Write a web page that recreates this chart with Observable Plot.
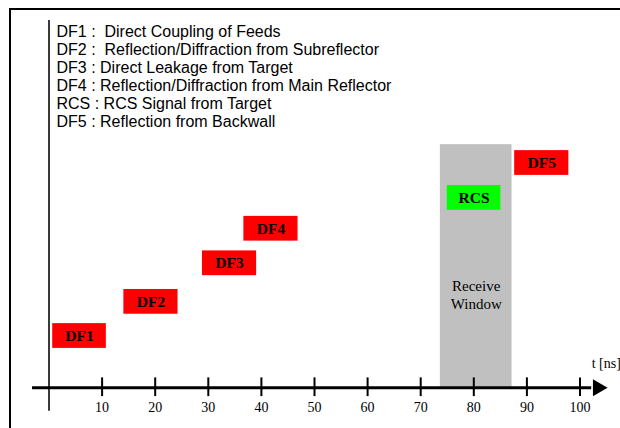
<!DOCTYPE html>
<html>
<head>
<meta charset="utf-8">
<script src="https://cdn.jsdelivr.net/npm/d3@7"></script>
<script src="https://cdn.jsdelivr.net/npm/@observablehq/plot@0.6"></script>
<style>
  html, body { margin: 0; padding: 0; background: #fff; }
  #wrap { position: relative; width: 620px; height: 428px; overflow: hidden; }
  #wrap::before { content: ""; position: absolute; left: 9px; top: 8px; width: 700px; height: 500px;
    border-left: 2px solid #000; border-top: 2px solid #000; }
  #wrap svg { position: absolute; left: 0; top: 0; }
</style>
</head>
<body>
<div id="wrap"></div>
<script>
// ---- data ----
const legendLines = [
  "DF1 :\u00a0 Direct Coupling of Feeds",
  "DF2 :\u00a0 Reflection/Diffraction from Subreflector",
  "DF3 : Direct Leakage from Target",
  "DF4 : Reflection/Diffraction from Main Reflector",
  "RCS : RCS Signal from Target",
  "DF5 : Reflection from Backwall"
];
const labels = ["DF1", "DF2", "DF3", "DF4", "RCS", "DF5"];
const kinds  = ["DF", "DF", "DF", "DF", "RCS", "DF"];
const starts = [0.7, 14.1, 28.9, 36.7, 75.0, 87.7];   // ns
const ends   = [10.8, 24.3, 39.1, 46.9, 85.1, 97.9];  // ns
const levels = [14.1, 23.4, 33.9, 43.3, 51.7, 61.2];  // relative height
const windowStart = 73.7, windowEnd = 87.2, windowTop = 66.2;
const windowLabel = "Receive\nWindow";
const tickValues = [10, 20, 30, 40, 50, 60, 70, 80, 90, 100];
const axisLabel = "t [ns]";
const axisStart = -3.1, axisEnd = 105.2;

// ---- build ----
const boxes = labels.map((label, i) => ({label, kind: kinds[i], start: starts[i], end: ends[i], level: levels[i]}));
const boxHalf = 3.37;
const serif = "'Liberation Serif', 'Times New Roman', serif";
const sans = "'Liberation Sans', Arial, sans-serif";

const chart = Plot.plot({
  width: 620,
  height: 428,
  marginLeft: 48.5,
  marginRight: 40.5,
  marginTop: 20,
  marginBottom: 40.7,
  x: {domain: [0, 100], axis: null},
  y: {domain: [0, 100], axis: null},
  color: {domain: ["DF", "RCS"], range: ["#ff0000", "#00ff00"]},
  marks: [
    // receive window
    Plot.rectY([{a: windowStart, b: windowEnd, t: windowTop}], {x1: "a", x2: "b", y1: 0, y2: "t", fill: "#c0c0c0"}),
    Plot.text([windowLabel], {x: (windowStart + windowEnd) / 2, y: 25.4, text: d => d, fontFamily: serif, fontSize: 15, fill: "#000", lineHeight: 1.2}),
    // vertical line
    Plot.ruleX([0], {y1: -6.4, y2: 100, stroke: "#3a3a3a", strokeWidth: 2}),
    // boxes
    Plot.rect(boxes, {x1: "start", x2: "end", y1: d => d.level - boxHalf, y2: d => d.level + boxHalf, fill: "kind"}),
    Plot.text(boxes, {x: d => (d.start + d.end) / 2, y: "level", text: "label", fontFamily: serif, fontWeight: "bold", fontSize: 15.5, fill: "#000"}),
    // time axis
    Plot.ruleY([0], {x1: axisStart, x2: axisEnd - 3, stroke: "#000", strokeWidth: 3}),
    Plot.dot([axisEnd], {x: d => d, y: 0, symbol: "triangle", rotate: 90, r: 6.3, fill: "#000", stroke: "none", dx: -9.8}),
    Plot.ruleX(tickValues, {x: d => d, y1: -2.4, y2: 2.7, stroke: "#000", strokeWidth: 2}),
    Plot.text(tickValues, {x: d => d, y: 0, dy: 20, text: d => String(d), fontFamily: serif, fontSize: 14, fill: "#000"}),
    Plot.text([axisLabel], {x: 102.2, y: 5.5, text: d => d, textAnchor: "start", lineAnchor: "bottom", fontFamily: serif, fontSize: 14, fill: "#000"}),
    // legend text
    Plot.text([legendLines.join("\n")], {frameAnchor: "top-left", text: d => d, dx: 7.5, dy: 3.5, lineAnchor: "top", textAnchor: "start", lineHeight: 1.13, fontFamily: sans, fontSize: 16, fill: "#000"})
  ]
});
chart.style.overflow = "visible";
document.getElementById("wrap").appendChild(chart);
</script>
</body>
</html>
